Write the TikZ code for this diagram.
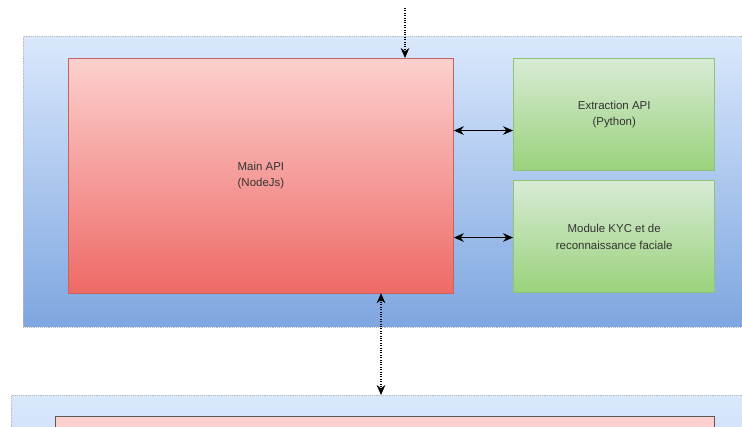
\documentclass[tikz,border=0pt]{standalone}
\usepackage{fontspec}
\setmainfont{Liberation Sans}
\usetikzlibrary{arrows.meta}
\definecolor{blueTop}{HTML}{DAE8FC}
\definecolor{blueBot}{HTML}{7EA6E0}
\definecolor{redTop}{HTML}{FCD0CE}
\definecolor{redBot}{HTML}{EE6A66}
\definecolor{redLine}{HTML}{C7625E}
\definecolor{greenTop}{HTML}{D8EBD5}
\definecolor{greenBot}{HTML}{9AD27C}
\definecolor{greenLine}{HTML}{8FC377}
\definecolor{txt}{HTML}{333333}
\begin{document}
\begin{tikzpicture}[x=0.75pt, y=-0.75pt, font=\fontsize{8.6}{12.6}\selectfont, text=txt,
        box/.style={rectangle, inner sep=0pt, align=center, anchor=north west},
        zone/.style={box, draw=gray!55, densely dotted, top color=blueTop, bottom color=blueBot},
        main/.style={box, draw=redLine, top color=redTop, bottom color=redBot},
        service/.style={box, draw=greenLine, line width=0.8pt, top color=greenTop, bottom color=greenBot,
            minimum width=151pt, minimum height=84pt},
        link/.style={thick, {Stealth[length=7.5pt,width=6.5pt]}-{Stealth[length=7.5pt,width=6.5pt]}},
        wire/.style={thick, densely dotted}]
    \clip (0,0) rectangle (742,426);
    \fill[white] (0,0) rectangle (742,426);
    % backend zone
    \node[zone, minimum width=555pt, minimum height=218pt] (backend) at (23,36) {};
    \node[main, minimum width=289pt, minimum height=176pt] (api) at (68,58) {Main API\\(NodeJs)};
    \node[service] (extract) at (513,58) {Extraction API\\(Python)};
    \node[service] (kyc) at (513,180) {Module KYC et de\\reconnaissance faciale};
    % lower zone (cut off)
    \node[zone, bottom color=blueTop!80!blueBot, minimum width=580pt, minimum height=60pt] (lower) at (11,395) {};
    \node[box, draw=gray!70!black, fill=redTop, minimum width=494pt, minimum height=40pt] (db) at (55,416) {};
    % connectors
    \coordinate (in) at (405,8);
    \coordinate (bus) at (381,0);
    \draw[wire, -{Stealth[length=7.5pt,width=6.5pt]}] (in) -- (in |- api.north);
    \draw[wire, {Stealth[length=7.5pt,width=6.5pt]}-{Stealth[length=7.5pt,width=6.5pt]}] (bus |- api.south) -- (bus |- lower.north);
    \foreach \srv/\dy in {extract/-16, kyc/-1}
        \draw[link] ([yshift=\dy*0.75pt]api.east |- \srv.west) -- ([yshift=\dy*0.75pt]\srv.west);
\end{tikzpicture}
\end{document}
